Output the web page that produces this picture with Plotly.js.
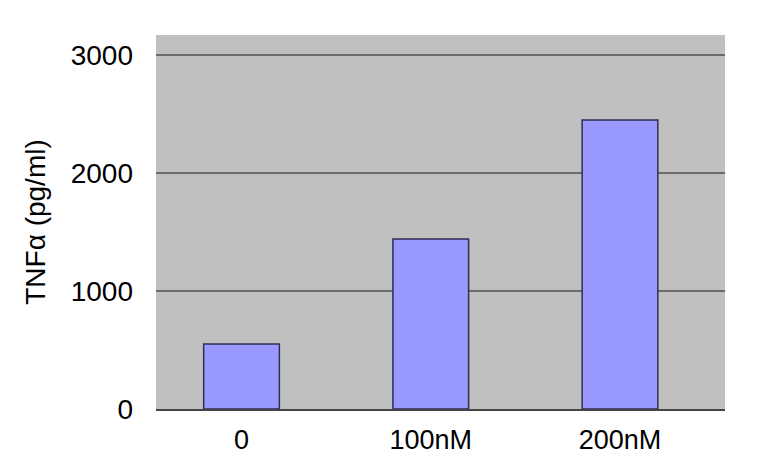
<!DOCTYPE html>
<html>
<head>
<meta charset="utf-8">
<script src="https://cdn.plot.ly/plotly-3.0.1.min.js"></script>
<style>
  html, body { margin: 0; padding: 0; background: #fff; }
  #chart { width: 763px; height: 465px; }
</style>
</head>
<body>
<div id="chart"></div>
<script>
// values
var doses = ['0', '100nM', '200nM'];
var tnfValues = [550, 1440, 2450];
var yTicks = [0, 1000, 2000, 3000];

var font = 'Arial, "Liberation Sans", Helvetica, sans-serif';

var trace = {
    x: doses,
    y: tnfValues,
    type: 'bar',
    width: 0.4,
    marker: {
        color: '#9999ff',
        line: { color: '#2e2e55', width: 1.5 }
    },
    hoverinfo: 'skip'
};

var layout = {
    width: 763,
    height: 465,
    margin: { l: 156, r: 38, t: 35, b: 56 },
    paper_bgcolor: '#ffffff',
    plot_bgcolor: '#c0c0c0',
    showlegend: false,
    font: { family: font, size: 27, color: '#000000' },
    xaxis: {
        type: 'category',
        range: [-0.452, 2.555],
        showgrid: false,
        zeroline: false,
        showline: true,
        linecolor: '#444444',
        linewidth: 2,
        ticks: '',
        ticklabelstandoff: 6,
        tickfont: { family: font, size: 27, color: '#000' }
    },
    yaxis: {
        range: [0, 3170],
        tickvals: yTicks,
        ticktext: yTicks.map(String),
        showgrid: true,
        gridcolor: '#6b6b6b',
        gridwidth: 2.5,
        zeroline: false,
        showline: false,
        ticks: '',
        ticklabelstandoff: 22,
        tickfont: { family: font, size: 28, color: '#000' },
        title: {
            text: 'TNF\u03b1 (pg/ml)',
            font: { family: font, size: 28, color: '#000' },
            standoff: 16
        }
    }
};

Plotly.newPlot('chart', [trace], layout, { displayModeBar: false, staticPlot: true });
</script>
</body>
</html>
